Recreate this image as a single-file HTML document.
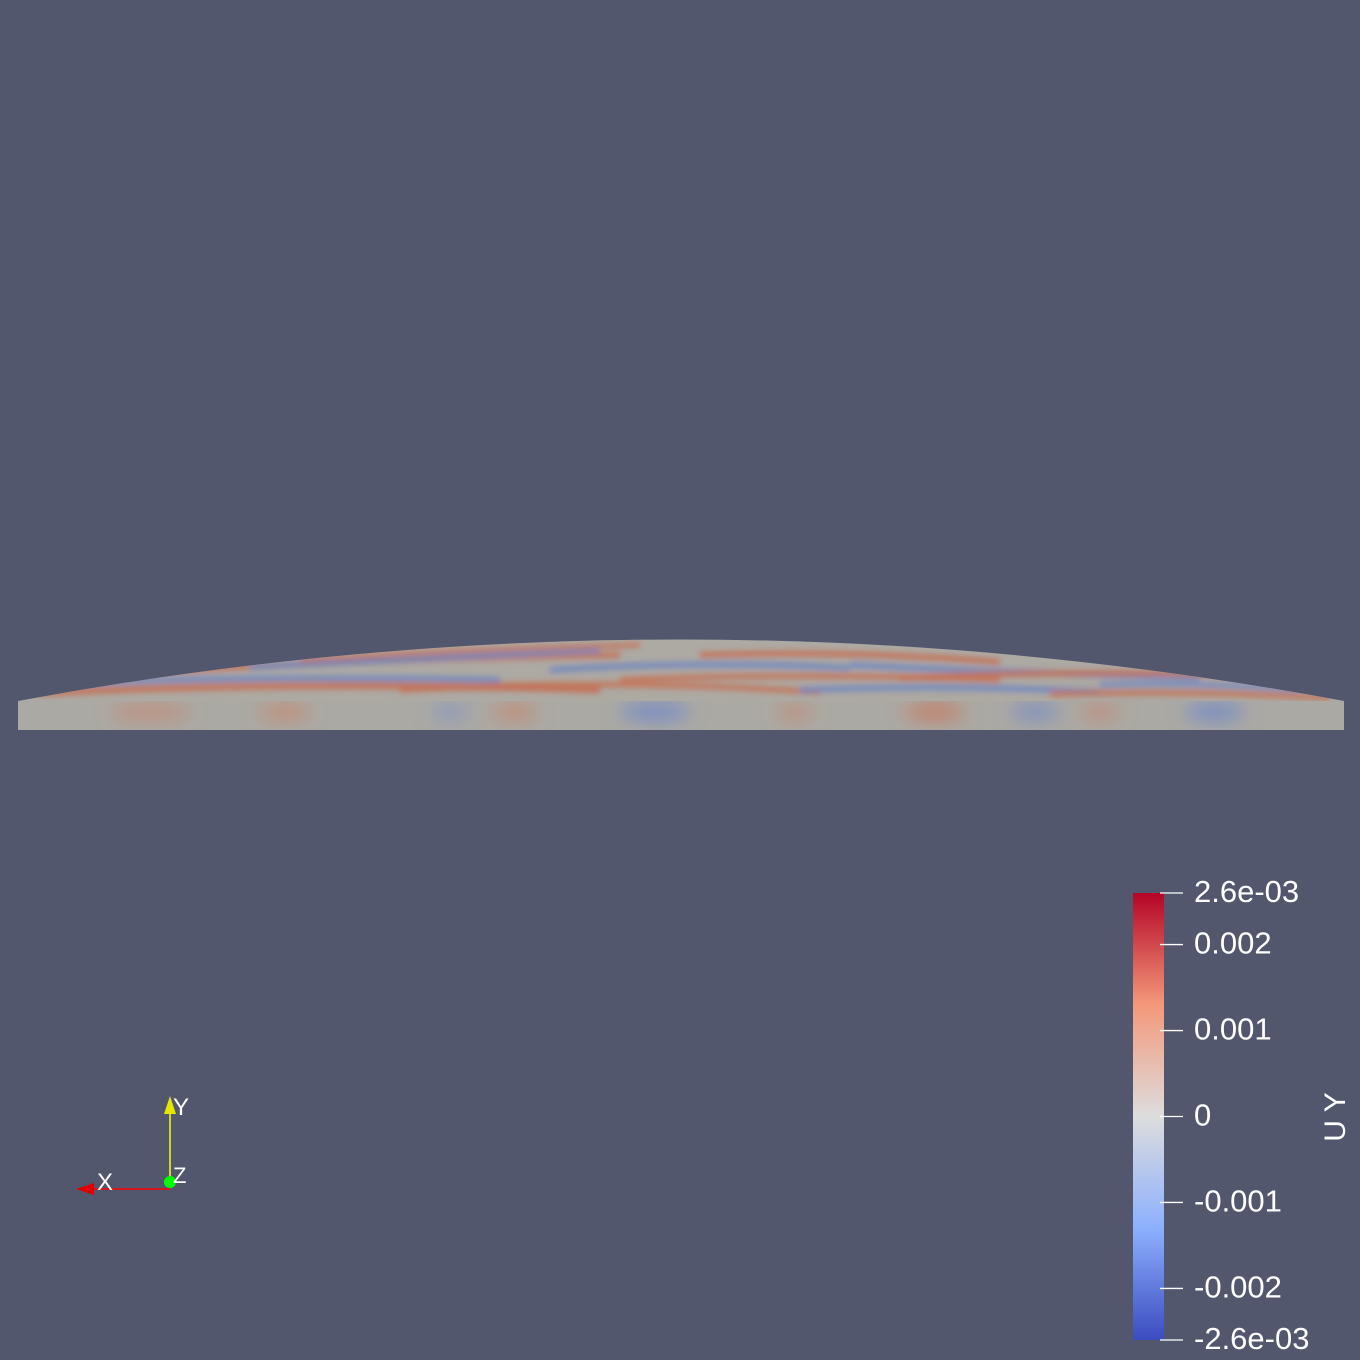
<!DOCTYPE html>
<html><head><meta charset="utf-8"><style>
html,body{margin:0;padding:0;background:#52576e;}
svg{display:block;font-family:"Liberation Sans",sans-serif;}
</style></head><body>
<svg width="1360" height="1360" viewBox="0 0 1360 1360">
<defs>
<linearGradient id="cmap" x1="0" y1="1" x2="0" y2="0">
<stop offset="0" stop-color="#3b4cc0"/><stop offset="0.25" stop-color="#8db0fe"/>
<stop offset="0.5" stop-color="#dddddd"/><stop offset="0.75" stop-color="#f4987a"/>
<stop offset="1" stop-color="#b40426"/></linearGradient>
<clipPath id="topClip"><path d="M18,701 Q681,578 1344,701 Z"/></clipPath>
<clipPath id="sideClip"><rect x="18" y="701" width="1326" height="29"/></clipPath>
<filter id="blur" x="-10%" y="-100%" width="120%" height="300%"><feGaussianBlur stdDeviation="3"/></filter>
<filter id="blur2" x="-50%" y="-100%" width="200%" height="300%"><feGaussianBlur stdDeviation="9"/></filter>
</defs>
<g>
<path d="M18,701 Q681,578 1344,701 Z" fill="#ada9a3"/>
<g clip-path="url(#topClip)" filter="url(#blur)">
<path d="M40,693 Q300,680 600,690" stroke="#c66f52" stroke-width="7" fill="none" opacity="0.85"/>
<path d="M60,684 Q250,675 500,680" stroke="#6f86c0" stroke-width="6" fill="none" opacity="0.85"/>
<path d="M100,676 Q300,660 620,655" stroke="#c66f52" stroke-width="6" fill="none" opacity="0.85"/>
<path d="M250,667 Q400,660 600,650" stroke="#6f86c0" stroke-width="6" fill="none" opacity="0.85"/>
<path d="M300,660 Q450,650 640,645" stroke="#c66f52" stroke-width="5" fill="none" opacity="0.8"/>
<path d="M400,690 Q600,678 820,692" stroke="#c66f52" stroke-width="6" fill="none" opacity="0.8"/>
<path d="M550,670 Q700,660 850,668" stroke="#6f86c0" stroke-width="6" fill="none" opacity="0.85"/>
<path d="M620,680 Q800,672 1000,680" stroke="#c66f52" stroke-width="6" fill="none" opacity="0.8"/>
<path d="M700,655 Q850,650 1000,662" stroke="#c66f52" stroke-width="6" fill="none" opacity="0.85"/>
<path d="M800,690 Q950,684 1100,692" stroke="#6f86c0" stroke-width="6" fill="none" opacity="0.85"/>
<path d="M850,665 Q1000,672 1200,678" stroke="#6f86c0" stroke-width="6" fill="none" opacity="0.85"/>
<path d="M900,678 Q1050,670 1250,675" stroke="#c66f52" stroke-width="6" fill="none" opacity="0.85"/>
<path d="M1050,694 Q1200,690 1330,698" stroke="#c66f52" stroke-width="6" fill="none" opacity="0.8"/>
<path d="M1100,685 Q1200,682 1300,690" stroke="#6f86c0" stroke-width="5" fill="none" opacity="0.85"/>
<path d="M1150,660 Q1250,665 1330,690" stroke="#c66f52" stroke-width="5" fill="none" opacity="0.8"/>
</g>
<rect x="18" y="701" width="1326" height="29" fill="#aba9a4"/>
<g clip-path="url(#sideClip)" filter="url(#blur2)">
<ellipse cx="150" cy="712" rx="40" ry="9" fill="#c9846a" opacity="0.6"/>
<ellipse cx="285" cy="712" rx="25" ry="9" fill="#c9846a" opacity="0.7"/>
<ellipse cx="450" cy="712" rx="20" ry="9" fill="#7f93c4" opacity="0.6"/>
<ellipse cx="515" cy="712" rx="22" ry="9" fill="#c9846a" opacity="0.7"/>
<ellipse cx="655" cy="712" rx="35" ry="9" fill="#6c86cc" opacity="0.8"/>
<ellipse cx="795" cy="712" rx="18" ry="9" fill="#c9846a" opacity="0.6"/>
<ellipse cx="935" cy="712" rx="30" ry="9" fill="#c9765a" opacity="0.8"/>
<ellipse cx="1035" cy="712" rx="25" ry="9" fill="#7088c8" opacity="0.7"/>
<ellipse cx="1100" cy="712" rx="20" ry="9" fill="#c9846a" opacity="0.6"/>
<ellipse cx="1215" cy="712" rx="30" ry="9" fill="#6c86cc" opacity="0.8"/>
</g>
</g>
<g>
<line x1="170" y1="1188" x2="170" y2="1112" stroke="#ffff00" stroke-width="1.5"/>
<polygon points="170,1096 164,1114 176,1114" fill="#e6e600"/>
<line x1="170" y1="1189" x2="92" y2="1189" stroke="#ff0000" stroke-width="1.5"/>
<polygon points="76,1189 94,1183 94,1195" fill="#e00000"/>
<circle cx="170" cy="1182" r="6" fill="#00ff00"/>
<text x="173" y="1115" fill="#fff" font-size="24">Y</text>
<text x="97" y="1190" fill="#fff" font-size="24">X</text>
<text x="173" y="1183" fill="#fff" font-size="22">Z</text>
</g>
<rect x="1133" y="893" width="31" height="447" fill="url(#cmap)"/>
<g id="ticks"></g>
<text transform="translate(1345,1117) rotate(-90)" text-anchor="middle" fill="#fff" font-size="30">U Y</text>
</svg>
<script>
const tickValues=[0.0026,0.002,0.001,0,-0.001,-0.002,-0.0026];
const tickLabels=["2.6e-03","0.002","0.001","0","-0.001","-0.002","-2.6e-03"];
const vmin=-0.0026, vmax=0.0026, yTop=893, yBottom=1340;
function yScale(v){return yBottom-(v-vmin)/(vmax-vmin)*(yBottom-yTop);}
const g=document.getElementById('ticks');
const ns="http://www.w3.org/2000/svg";
tickValues.forEach((v,i)=>{
  const y=yScale(v);
  const l=document.createElementNS(ns,'line');
  l.setAttribute('x1',1160);l.setAttribute('x2',1183);
  l.setAttribute('y1',y);l.setAttribute('y2',y);
  l.setAttribute('stroke','#fff');l.setAttribute('stroke-width','1.3');
  
  
  g.appendChild(l);
  const t=document.createElementNS(ns,'text');
  t.setAttribute('x',1194);t.setAttribute('y',y+9);
  t.setAttribute('fill','#fff');t.setAttribute('font-size','31');
  t.textContent=tickLabels[i];
  
  
  g.appendChild(t);
});
</script>
</body></html>
